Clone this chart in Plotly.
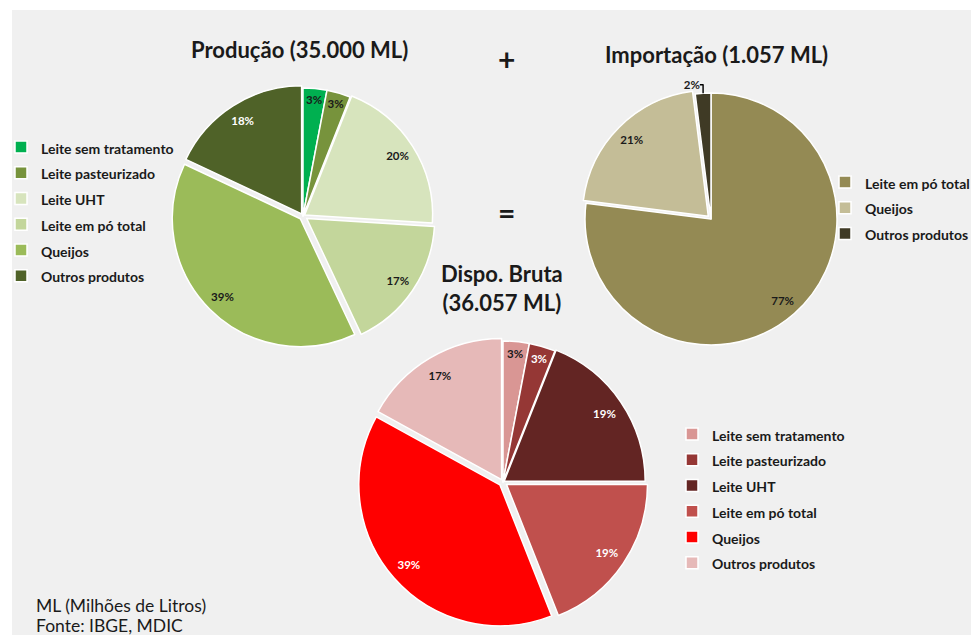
import plotly.graph_objects as go

W, H = 971, 635

# ---- data ----
prod_labels = ["Leite sem tratamento", "Leite pasteurizado", "Leite UHT",
               "Leite em pó total", "Queijos", "Outros produtos"]
prod_values = [3, 3, 20, 17, 39, 18]

imp_labels = ["Leite em pó total", "Queijos", "Outros produtos"]
imp_values = [77, 21, 2]

disp_labels = ["Leite sem tratamento", "Leite pasteurizado", "Leite UHT",
               "Leite em pó total", "Queijos", "Outros produtos"]
disp_values = [3, 3, 19, 19, 39, 17]

titles = ["Produção (35.000 ML)", "Importação (1.057 ML)", "Dispo. Bruta<br>(36.057 ML)"]
footnotes = ["ML (Milhões de Litros)", "Fonte: IBGE, MDIC"]

# ---- styles ----
prod_colors = ["#00b050", "#77933c", "#d7e4bd", "#c3d69b", "#9bbb59", "#4f6228"]
prod_text = ["#1a1a1a", "#1a1a1a", "#1a1a1a", "#1a1a1a", "#1a1a1a", "#ffffff"]
prod_pull = [0, 0, 0.015, 0.035, 0.03, 0.02]

imp_colors = ["#948a54", "#c4bd97", "#3f3a25"]
imp_text = ["#1a1a1a", "#1a1a1a", "#1a1a1a"]
imp_pull = [0, 0.03, 0]

disp_colors = ["#d99694", "#953735", "#632523", "#c0504d", "#ff0000", "#e6b9b8"]
disp_text = ["#1a1a1a", "#ffffff", "#ffffff", "#ffffff", "#ffffff", "#1a1a1a"]
disp_pull = [0, 0, 0.01, 0.03, 0.03, 0.02]

FONT = "Lato"


def px(x):
    return x / W


def py(y):
    return 1 - y / H


def dom(cx, cy, r, pull):
    h = r * (1 + max(pull))
    return dict(x=[px(cx - h), px(cx + h)], y=[py(cy + h), py(cy - h)])


def leg_labels(labels):
    return [f'<span style="font-size:14px">{l}</span>' for l in labels]


fig = go.Figure()


def add_pie(labels, values, colors, textcolors, pull, domain, legend, group, textpos):
    # slices + legend
    fig.add_trace(go.Pie(
        labels=leg_labels(labels), values=values, sort=False, direction="clockwise",
        rotation=0, marker=dict(colors=colors, line=dict(color="white", width=1.5)),
        pull=pull, textinfo="none", domain=domain, legend=legend, legendgroup=group,
        hoverinfo="label+percent",
    ))
    # percentage labels placed near the rim (ring of a transparent donut)
    fig.add_trace(go.Pie(
        labels=leg_labels(labels), values=values, sort=False, direction="clockwise",
        rotation=0, hole=0.72,
        marker=dict(colors=["rgba(0,0,0,0)"] * len(values), line=dict(width=0)),
        pull=pull, textinfo="percent", texttemplate="%{percent:.0%}",
        textposition=textpos, insidetextorientation="horizontal",
        textfont=dict(color=textcolors, size=11.5, family=FONT, weight="bold"),
        domain=domain, showlegend=False, hoverinfo="skip", legendgroup=group + "t",
    ))


add_pie(prod_labels, prod_values, prod_colors, prod_text, prod_pull,
        dom(303, 216, 128, prod_pull), "legend", "g1", "inside")
add_pie(imp_labels, imp_values, imp_colors, imp_text, imp_pull,
        dom(711, 219, 126, imp_pull), "legend2", "g2", ["inside", "inside", "outside"])
add_pie(disp_labels, disp_values, disp_colors, disp_text, disp_pull,
        dom(503, 482, 141, disp_pull), "legend3", "g3", "inside")

legfont = dict(family=FONT, size=17.5, color="#1a1a1a", weight="bold")
common = dict(font=legfont, bgcolor="rgba(0,0,0,0)", xanchor="left", yanchor="top",
              traceorder="normal")

ann = [
    dict(text=titles[0], x=299, y=50),
    dict(text=titles[1], x=716, y=55),
    dict(text=titles[2], x=502, y=288),
    dict(text="+", x=507, y=59, size=30),
    dict(text="=", x=507, y=212, size=30),
]
annotations = []
for a in ann:
    annotations.append(dict(
        text=a["text"], x=px(a["x"]), y=py(a["y"]), xref="paper", yref="paper",
        xanchor="center", yanchor="middle", showarrow=False,
        font=dict(family=FONT, size=a.get("size", 22), color="#1a1a1a", weight="bold"),
    ))
for t, yy in zip(footnotes, [605, 625]):
    annotations.append(dict(
        text=t, x=px(34), y=py(yy), xref="paper", yref="paper",
        xanchor="left", yanchor="middle", showarrow=False, align="left",
        font=dict(family=FONT, size=17.5, color="#1a1a1a"),
    ))

fig.update_layout(
    width=W, height=H, margin=dict(l=0, r=0, t=0, b=0, pad=0, autoexpand=False),
    paper_bgcolor="#f0f0f0", plot_bgcolor="#f0f0f0",
    showlegend=True,
    legend=dict(x=px(1), y=py(129), **common),
    legend2=dict(x=px(825), y=py(164), **common),
    legend3=dict(x=px(672), y=py(416), **common),
    uniformtext=dict(minsize=11, mode="show"),
    annotations=annotations,
    shapes=[
        dict(type="rect", xref="paper", yref="paper", x0=0, x1=1, y0=py(10), y1=1,
             fillcolor="white", line=dict(width=0), layer="below"),
        dict(type="rect", xref="paper", yref="paper", x0=0, x1=px(12), y0=0, y1=1,
             fillcolor="white", line=dict(width=0), layer="below"),
    ],
)

fig.write_html("out.html",
               config={"displayModeBar": False},
               post_script="document.body.style.margin='0';"
                           "document.body.style.overflow='hidden';")
